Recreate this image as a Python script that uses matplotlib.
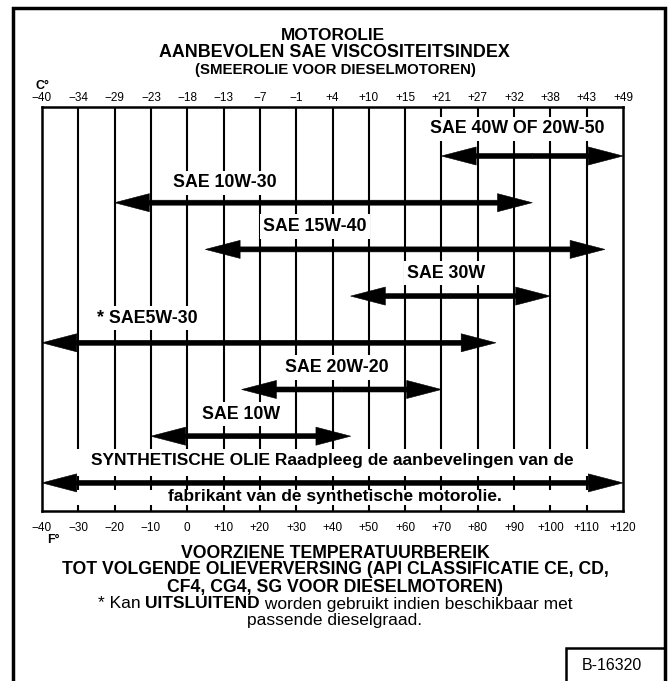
import numpy as np
import matplotlib.pyplot as plt
from matplotlib.patches import FancyArrowPatch, Rectangle, ArrowStyle

plt.rcParams['font.family'] = ['Liberation Sans', 'DejaVu Sans']

W, H = 669, 681  # afmeting in pixels

# Temperatuurschalen (Fahrenheit onder, Celsius boven)
f_ticks = [-40, -30, -20, -10, 0, 10, 20, 30, 40, 50, 60, 70, 80, 90, 100, 110, 120]
f_labels = ['−40', '−30', '−20', '−10', '0', '+10', '+20', '+30', '+40', '+50',
            '+60', '+70', '+80', '+90', '+100', '+110', '+120']
c_labels = ['−40', '−34', '−29', '−23', '−18', '−13', '−7', '−1', '+4', '+10',
            '+15', '+21', '+27', '+32', '+38', '+43', '+49']

# Olie-soorten met temperatuurbereik in °F
oils = ['SAE 40W OF 20W-50', 'SAE 10W-30', 'SAE 15W-40', 'SAE 30W',
        '* SAE5W-30', 'SAE 20W-20', 'SAE 10W']
f_low = [70, -20, 5, 45, -40, 15, -10]
f_high = [120, 95, 115, 100, 85, 70, 45]

synth_low, synth_high = -40, 120
synth_text = ['SYNTHETISCHE OLIE Raadpleeg de aanbevelingen van de',
              'fabrikant van de synthetische motorolie.']

# plaats van de labels (x in °F, verschuiving t.o.v. de pijl in rijen)
label_x = [91, 10.4, 35.2, 71.3, -11.1, 41.3, 14.8]
label_dy = [-0.58, -0.43, -0.49, -0.49, -0.53, -0.47, -0.47]


def fx(px):
    return px / W


def fy(py):
    return 1 - py / H


def double_arrow(ax, x0, x1, y):
    # twee enkele pijlen vanuit het midden, zo krijgen beide kanten een punt
    mid = (x0 + x1) / 2
    style = ArrowStyle('simple', head_length=25, head_width=13, tail_width=3.6)
    for end in (x0, x1):
        ax.add_patch(FancyArrowPatch((mid, y), (end, y), arrowstyle=style,
                                     mutation_scale=1, shrinkA=0, shrinkB=0,
                                     color='black', lw=0.4, zorder=4))


fig = plt.figure(figsize=(W / 100, H / 100), dpi=100)

ax = fig.add_axes([fx(42), fy(511), (623 - 42) / W, (511 - 107) / H])
ax.set_xlim(-40, 120)
ax.set_ylim(7.602, -1.049)
for s in ax.spines.values():
    s.set_linewidth(1.8)

# verticale lijnen, onderbroken bij de tekst van de synthetische olie
inner = f_ticks[1:-1]
ax.vlines(inner, -1.049, 6.27, color='black', lw=1.5, zorder=1)
ax.vlines(inner, 6.85, 7.15, color='black', lw=1.5, zorder=1)
ax.vlines(inner, 7.47, 7.602, color='black', lw=1.5, zorder=1)

for i, name in enumerate(oils):
    double_arrow(ax, f_low[i], f_high[i], i)
    ax.text(label_x[i], i + label_dy[i], name, ha='center', va='center',
            fontsize=12.8, fontweight='bold', zorder=3,
            bbox=dict(boxstyle='square,pad=0.2', fc='white', ec='none'))

row = len(oils)
double_arrow(ax, synth_low, synth_high, row)
ax.text(40, row - 0.49, synth_text[0], ha='center', va='center',
        fontsize=12.5, fontweight='bold', zorder=3)
ax.text(40.6, row + 0.3, synth_text[1], ha='center', va='center',
        fontsize=12.5, fontweight='bold', zorder=3)

# assen: °F onder, °C boven
ax.set_yticks([])
ax.set_xticks(f_ticks, labels=f_labels)
ax.tick_params(axis='x', length=0, labelsize=8.5, pad=8)
secax = ax.secondary_xaxis('top')
secax.set_xticks(f_ticks, labels=c_labels)
secax.tick_params(axis='x', length=0, labelsize=8.5, pad=2)
secax.spines['top'].set_visible(False)

fig.text(fx(36), fy(86), 'C°', fontsize=9, fontweight='bold', va='center', ha='left')
fig.text(fx(47), fy(540), 'F°', fontsize=9, fontweight='bold', va='center', ha='left')

# titels
fig.text(fx(333), fy(35), 'MOTOROLIE', fontsize=12.4, fontweight='bold', ha='center', va='center')
fig.text(fx(334), fy(52.5), 'AANBEVOLEN SAE VISCOSITEITSINDEX', fontsize=12.9,
         fontweight='bold', ha='center', va='center')
fig.text(fx(335), fy(70), '(SMEEROLIE VOOR DIESELMOTOREN)', fontsize=10.8,
         fontweight='bold', ha='center', va='center')

# onderschrift
footer = ['VOORZIENE TEMPERATUURBEREIK',
          'TOT VOLGENDE OLIEVERVERSING (API CLASSIFICATIE CE, CD,',
          'CF4, CG4, SG VOOR DIESELMOTOREN)']
for k, line in enumerate(footer):
    fig.text(fx(335), fy(553 + 17 * k), line, fontsize=12.7, fontweight='bold',
             ha='center', va='center')

# regel met gemengd vet/normaal
parts = [('* Kan ', 'normal'), ('UITSLUITEND', 'bold'),
         (' worden gebruikt indien beschikbaar met', 'normal')]
renderer = fig.canvas.get_renderer()
pieces = [fig.text(0, fy(604), s, fontsize=12.5, fontweight=w, ha='left', va='center')
          for s, w in parts]
widths = [p.get_window_extent(renderer).width for p in pieces]
x = 335 - sum(widths) / 2
for p, w in zip(pieces, widths):
    p.set_x(fx(x))
    x += w
fig.text(fx(335), fy(621), 'passende dieselgraad.', fontsize=12.5, ha='center', va='center')

# kaders
fig.add_artist(Rectangle((fx(12.5), fy(760)), (664.5 - 12.5) / W, (760 - 7.5) / H,
                         transform=fig.transFigure, fill=False, lw=2.5, ec='black'))
fig.add_artist(Rectangle((fx(566), fy(760)), (664.5 - 566) / W, (760 - 648) / H,
                         transform=fig.transFigure, fill=False, lw=1.8, ec='black'))
fig.text(fx(612), fy(666), 'B-16320', fontsize=11.5, ha='center', va='center')

fig.savefig('out.png', dpi=100)
